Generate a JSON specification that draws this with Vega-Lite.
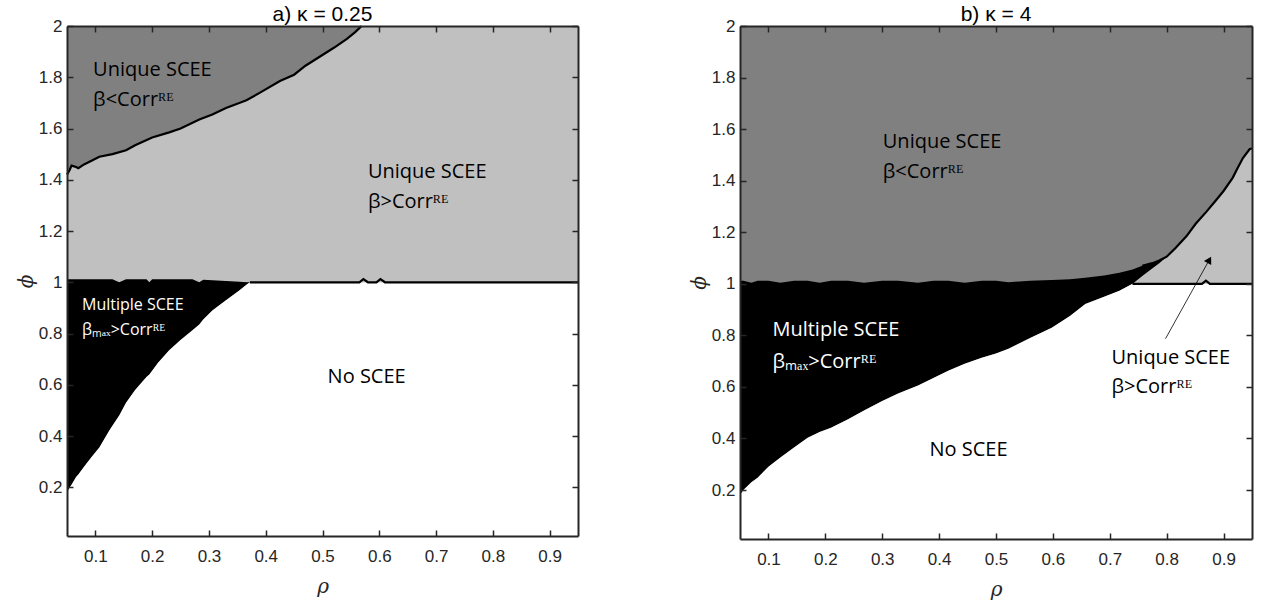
{
  "$schema": "https://vega.github.io/schema/vega-lite/v6.json",
  "background": "white",
  "padding": {"left": 16, "top": 4, "right": 5, "bottom": 5},
  "spacing": 106,
  "config": {
    "view": {"fill": "#808080", "stroke": null},
    "axis": {
      "labelFont": "Liberation Sans", "labelFontSize": 17, "labelColor": "#262626",
      "domainColor": "#262626", "domainWidth": 2, "tickColor": "#262626", "tickWidth": 1.5,
      "tickSize": 6, "grid": false,
      "titleFont": "DejaVu Serif", "titleFontStyle": "italic", "titleFontWeight": "normal",
      "titleFontSize": 20, "titleColor": "#262626"
    },
    "title": {"font": "Liberation Sans", "fontSize": 21, "fontWeight": "normal", "color": "#000000", "offset": -8}
  },
  "datasets": {
    "a_regions": [
      {"rho": 0.05, "w": 0.18, "bt": 1.012, "up": 1.42},
      {"rho": 0.055, "w": 0.2, "bt": 1.012, "up": 1.44},
      {"rho": 0.058, "w": 0.21, "bt": 1.012, "up": 1.455},
      {"rho": 0.066, "w": 0.24, "bt": 1.012, "up": 1.45},
      {"rho": 0.07, "w": 0.25, "bt": 1.012, "up": 1.445},
      {"rho": 0.08, "w": 0.28, "bt": 1.012, "up": 1.46},
      {"rho": 0.094, "w": 0.32, "bt": 1.012, "up": 1.475},
      {"rho": 0.107, "w": 0.355, "bt": 1.012, "up": 1.49},
      {"rho": 0.124, "w": 0.42, "bt": 1.012, "up": 1.5},
      {"rho": 0.13, "w": 0.44, "bt": 1.012, "up": 1.5},
      {"rho": 0.142, "w": 0.48, "bt": 1.0, "up": 1.51},
      {"rho": 0.154, "w": 0.53, "bt": 1.012, "up": 1.515},
      {"rho": 0.17, "w": 0.58, "bt": 1.012, "up": 1.535},
      {"rho": 0.19, "w": 0.63, "bt": 1.012, "up": 1.555},
      {"rho": 0.195, "w": 0.64, "bt": 1.0, "up": 1.56},
      {"rho": 0.2, "w": 0.655, "bt": 1.012, "up": 1.565},
      {"rho": 0.21, "w": 0.685, "bt": 1.012, "up": 1.572},
      {"rho": 0.23, "w": 0.735, "bt": 1.012, "up": 1.585},
      {"rho": 0.25, "w": 0.775, "bt": 1.012, "up": 1.6},
      {"rho": 0.271, "w": 0.813, "bt": 1.012, "up": 1.62},
      {"rho": 0.283, "w": 0.835, "bt": 1.0, "up": 1.635},
      {"rho": 0.29, "w": 0.855, "bt": 1.01, "up": 1.64},
      {"rho": 0.306, "w": 0.89, "bt": 1.008, "up": 1.655},
      {"rho": 0.33, "w": 0.93, "bt": 1.005, "up": 1.68},
      {"rho": 0.354, "w": 0.969, "bt": 1.002, "up": 1.705},
      {"rho": 0.366, "w": 0.99, "bt": 1.0, "up": 1.71},
      {"rho": 0.372, "w": 1.0, "bt": 1.0, "up": 1.72},
      {"rho": 0.39, "w": 1.0, "bt": 1.0, "up": 1.74},
      {"rho": 0.425, "w": 1.0, "bt": 1.0, "up": 1.785},
      {"rho": 0.45, "w": 1.0, "bt": 1.0, "up": 1.81},
      {"rho": 0.47, "w": 1.0, "bt": 1.0, "up": 1.845},
      {"rho": 0.495, "w": 1.0, "bt": 1.0, "up": 1.88},
      {"rho": 0.52, "w": 1.0, "bt": 1.0, "up": 1.915},
      {"rho": 0.543, "w": 1.0, "bt": 1.0, "up": 1.95},
      {"rho": 0.557, "w": 1.0, "bt": 1.0, "up": 1.975},
      {"rho": 0.569, "w": 1.0, "bt": 1.0, "up": 2.0},
      {"rho": 0.6, "w": 1.0, "bt": 1.0, "up": 2.0},
      {"rho": 0.95, "w": 1.0, "bt": 1.0, "up": 2.0}
    ],
    "a_edges": [
      {"seg": "upper", "rho": 0.05, "phi": 1.42},
      {"seg": "upper", "rho": 0.055, "phi": 1.44},
      {"seg": "upper", "rho": 0.058, "phi": 1.455},
      {"seg": "upper", "rho": 0.066, "phi": 1.45},
      {"seg": "upper", "rho": 0.07, "phi": 1.445},
      {"seg": "upper", "rho": 0.08, "phi": 1.46},
      {"seg": "upper", "rho": 0.094, "phi": 1.475},
      {"seg": "upper", "rho": 0.107, "phi": 1.49},
      {"seg": "upper", "rho": 0.13, "phi": 1.5},
      {"seg": "upper", "rho": 0.154, "phi": 1.515},
      {"seg": "upper", "rho": 0.17, "phi": 1.535},
      {"seg": "upper", "rho": 0.2, "phi": 1.565},
      {"seg": "upper", "rho": 0.23, "phi": 1.585},
      {"seg": "upper", "rho": 0.25, "phi": 1.6},
      {"seg": "upper", "rho": 0.283, "phi": 1.635},
      {"seg": "upper", "rho": 0.306, "phi": 1.655},
      {"seg": "upper", "rho": 0.33, "phi": 1.68},
      {"seg": "upper", "rho": 0.366, "phi": 1.71},
      {"seg": "upper", "rho": 0.39, "phi": 1.74},
      {"seg": "upper", "rho": 0.425, "phi": 1.785},
      {"seg": "upper", "rho": 0.45, "phi": 1.81},
      {"seg": "upper", "rho": 0.47, "phi": 1.845},
      {"seg": "upper", "rho": 0.495, "phi": 1.88},
      {"seg": "upper", "rho": 0.52, "phi": 1.915},
      {"seg": "upper", "rho": 0.543, "phi": 1.95},
      {"seg": "upper", "rho": 0.557, "phi": 1.975},
      {"seg": "upper", "rho": 0.569, "phi": 2.0},
      {"seg": "one", "rho": 0.372, "phi": 1.0},
      {"seg": "one", "rho": 0.565, "phi": 1.0},
      {"seg": "one", "rho": 0.572, "phi": 1.012},
      {"seg": "one", "rho": 0.58, "phi": 1.0},
      {"seg": "one", "rho": 0.595, "phi": 1.0},
      {"seg": "one", "rho": 0.602, "phi": 1.012},
      {"seg": "one", "rho": 0.61, "phi": 1.0},
      {"seg": "one", "rho": 0.95, "phi": 1.0}
    ],
    "a_labels": [
      {"kind": "dark", "rho": 0.096, "phi": 1.805, "text": "Unique SCEE"},
      {"kind": "dark", "rho": 0.096, "phi": 1.689, "text": "β<Corrᴿᴱ"},
      {"kind": "dark", "rho": 0.58, "phi": 1.405, "text": "Unique SCEE"},
      {"kind": "dark", "rho": 0.58, "phi": 1.288, "text": "β>Corrᴿᴱ"},
      {"kind": "dark", "rho": 0.509, "phi": 0.607, "text": "No SCEE"},
      {"kind": "light", "rho": 0.0765, "phi": 0.891, "text": "Multiple SCEE"},
      {"kind": "light", "rho": 0.0765, "phi": 0.794, "text": "βₘₐₓ>Corrᴿᴱ"}
    ],
    "b_regions": [
      {"rho": 0.05, "w": 0.18, "bb": 0.18, "bt": 1.012, "up": 1.0},
      {"rho": 0.056, "w": 0.2, "bb": 0.2, "bt": 1.012, "up": 1.0},
      {"rho": 0.07, "w": 0.23, "bb": 0.23, "bt": 1.004, "up": 1.0},
      {"rho": 0.081, "w": 0.248, "bb": 0.248, "bt": 1.012, "up": 1.0},
      {"rho": 0.1, "w": 0.29, "bb": 0.29, "bt": 1.012, "up": 1.0},
      {"rho": 0.121, "w": 0.326, "bb": 0.326, "bt": 1.004, "up": 1.0},
      {"rho": 0.145, "w": 0.365, "bb": 0.365, "bt": 1.012, "up": 1.0},
      {"rho": 0.169, "w": 0.403, "bb": 0.403, "bt": 1.012, "up": 1.0},
      {"rho": 0.19, "w": 0.425, "bb": 0.425, "bt": 1.004, "up": 1.0},
      {"rho": 0.21, "w": 0.442, "bb": 0.442, "bt": 1.012, "up": 1.0},
      {"rho": 0.24, "w": 0.475, "bb": 0.475, "bt": 1.012, "up": 1.0},
      {"rho": 0.268, "w": 0.508, "bb": 0.508, "bt": 1.004, "up": 1.0},
      {"rho": 0.3, "w": 0.545, "bb": 0.545, "bt": 1.012, "up": 1.0},
      {"rho": 0.328, "w": 0.574, "bb": 0.574, "bt": 1.012, "up": 1.0},
      {"rho": 0.363, "w": 0.605, "bb": 0.605, "bt": 1.004, "up": 1.0},
      {"rho": 0.39, "w": 0.635, "bb": 0.635, "bt": 1.012, "up": 1.0},
      {"rho": 0.416, "w": 0.663, "bb": 0.663, "bt": 1.012, "up": 1.0},
      {"rho": 0.445, "w": 0.69, "bb": 0.69, "bt": 1.004, "up": 1.0},
      {"rho": 0.475, "w": 0.713, "bb": 0.713, "bt": 1.012, "up": 1.0},
      {"rho": 0.5, "w": 0.73, "bb": 0.73, "bt": 1.012, "up": 1.0},
      {"rho": 0.522, "w": 0.748, "bb": 0.748, "bt": 1.006, "up": 1.0},
      {"rho": 0.56, "w": 0.79, "bb": 0.79, "bt": 1.012, "up": 1.0},
      {"rho": 0.598, "w": 0.829, "bb": 0.829, "bt": 1.015, "up": 1.0},
      {"rho": 0.63, "w": 0.875, "bb": 0.875, "bt": 1.018, "up": 1.0},
      {"rho": 0.657, "w": 0.922, "bb": 0.922, "bt": 1.023, "up": 1.0},
      {"rho": 0.69, "w": 0.95, "bb": 0.95, "bt": 1.032, "up": 1.0},
      {"rho": 0.717, "w": 0.973, "bb": 0.973, "bt": 1.043, "up": 1.0},
      {"rho": 0.74, "w": 1.0, "bb": 1.0, "bt": 1.055, "up": 1.0},
      {"rho": 0.757, "w": 1.0, "bb": 1.03, "bt": 1.07, "up": 1.03},
      {"rho": 0.775, "w": 1.0, "bb": 1.06, "bt": 1.08, "up": 1.06},
      {"rho": 0.787, "w": 1.0, "bb": 1.08, "bt": 1.09, "up": 1.085},
      {"rho": 0.8, "w": 1.0, "bb": 1.105, "bt": 1.105, "up": 1.105},
      {"rho": 0.816, "w": 1.0, "bb": 1.14, "bt": 1.14, "up": 1.14},
      {"rho": 0.835, "w": 1.0, "bb": 1.185, "bt": 1.185, "up": 1.185},
      {"rho": 0.851, "w": 1.0, "bb": 1.233, "bt": 1.233, "up": 1.233},
      {"rho": 0.87, "w": 1.0, "bb": 1.28, "bt": 1.28, "up": 1.28},
      {"rho": 0.886, "w": 1.0, "bb": 1.322, "bt": 1.322, "up": 1.322},
      {"rho": 0.9, "w": 1.0, "bb": 1.36, "bt": 1.36, "up": 1.36},
      {"rho": 0.916, "w": 1.0, "bb": 1.411, "bt": 1.411, "up": 1.411},
      {"rho": 0.925, "w": 1.0, "bb": 1.45, "bt": 1.45, "up": 1.45},
      {"rho": 0.934, "w": 1.0, "bb": 1.488, "bt": 1.488, "up": 1.488},
      {"rho": 0.946, "w": 1.0, "bb": 1.523, "bt": 1.523, "up": 1.523},
      {"rho": 0.95, "w": 1.0, "bb": 1.525, "bt": 1.525, "up": 1.525}
    ],
    "b_edges": [
      {"seg": "upper", "rho": 0.757, "phi": 1.07},
      {"seg": "upper", "rho": 0.775, "phi": 1.08},
      {"seg": "upper", "rho": 0.787, "phi": 1.09},
      {"seg": "upper", "rho": 0.8, "phi": 1.105},
      {"seg": "upper", "rho": 0.816, "phi": 1.14},
      {"seg": "upper", "rho": 0.835, "phi": 1.185},
      {"seg": "upper", "rho": 0.851, "phi": 1.233},
      {"seg": "upper", "rho": 0.87, "phi": 1.28},
      {"seg": "upper", "rho": 0.886, "phi": 1.322},
      {"seg": "upper", "rho": 0.9, "phi": 1.36},
      {"seg": "upper", "rho": 0.916, "phi": 1.411},
      {"seg": "upper", "rho": 0.925, "phi": 1.45},
      {"seg": "upper", "rho": 0.934, "phi": 1.488},
      {"seg": "upper", "rho": 0.946, "phi": 1.523},
      {"seg": "upper", "rho": 0.95, "phi": 1.525},
      {"seg": "one", "rho": 0.74, "phi": 1.0},
      {"seg": "one", "rho": 0.862, "phi": 1.0},
      {"seg": "one", "rho": 0.869, "phi": 1.012},
      {"seg": "one", "rho": 0.876, "phi": 1.0},
      {"seg": "one", "rho": 0.95, "phi": 1.0}
    ],
    "b_labels": [
      {"kind": "dark", "rho": 0.301, "phi": 1.527, "text": "Unique SCEE"},
      {"kind": "dark", "rho": 0.301, "phi": 1.411, "text": "β<Corrᴿᴱ"},
      {"kind": "dark", "rho": 0.383, "phi": 0.333, "text": "No SCEE"},
      {"kind": "dark", "rho": 0.703, "phi": 0.69, "text": "Unique SCEE"},
      {"kind": "dark", "rho": 0.703, "phi": 0.578, "text": "β>Corrᴿᴱ"},
      {"kind": "light", "rho": 0.107, "phi": 0.798, "text": "Multiple SCEE"},
      {"kind": "light", "rho": 0.107, "phi": 0.674, "text": "βₘₐₓ>Corrᴿᴱ"}
    ],
    "b_arrow": [
      {"rho": 0.798, "phi": 0.787, "rho2": 0.875, "phi2": 1.093}
    ]
  },
  "hconcat": [
    {
      "width": 511,
      "height": 510,
      "title": "a) κ = 0.25",
      "resolve": {"axis": {"x": "independent", "y": "independent"}},
      "layer": [
        {
          "data": {"name": "a_regions"},
          "mark": {"type": "area", "color": "#c0c0c0"},
          "encoding": {
            "x": {"field": "rho", "type": "quantitative", "scale": {"domain": [0.05, 0.95], "nice": false, "zero": false},
                  "axis": {"orient": "bottom", "zindex": 1, "values": [0.1, 0.2, 0.3, 0.4, 0.5, 0.6, 0.7, 0.8, 0.9], "format": ".1f", "title": "ρ", "titlePadding": 12, "ticks": false, "tickSize": 0, "labelPadding": 12}},
            "y": {"field": "up", "type": "quantitative", "scale": {"domain": [0.01, 2], "nice": false, "zero": false},
                  "axis": {"orient": "left", "zindex": 1, "values": [0.2, 0.4, 0.6, 0.8, 1, 1.2, 1.4, 1.6, 1.8, 2], "format": "~g", "title": "ϕ", "titlePadding": 2, "ticks": false, "tickSize": 0, "labelPadding": 5}},
            "y2": {"datum": 1}
          }
        },
        {
          "data": {"name": "a_regions"},
          "mark": {"type": "area", "color": "#000000"},
          "encoding": {
            "x": {"field": "rho", "type": "quantitative",
                  "axis": {"orient": "bottom", "zindex": 1, "values": [0.1, 0.2, 0.3, 0.4, 0.5, 0.6, 0.7, 0.8, 0.9], "labels": false, "domain": false, "title": null, "offset": -6}},
            "y": {"field": "w", "type": "quantitative",
                  "axis": {"orient": "left", "zindex": 1, "values": [0.2, 0.4, 0.6, 0.8, 1, 1.2, 1.4, 1.6, 1.8, 2], "labels": false, "domain": false, "title": null, "offset": -6}},
            "y2": {"field": "bt"}
          }
        },
        {
          "data": {"name": "a_regions"},
          "mark": {"type": "area", "color": "#ffffff"},
          "encoding": {
            "x": {"field": "rho", "type": "quantitative",
                  "axis": {"orient": "top", "zindex": 1, "values": [0.1, 0.2, 0.3, 0.4, 0.5, 0.6, 0.7, 0.8, 0.9], "labels": false, "domain": false, "title": null, "offset": -6}},
            "y": {"field": "w", "type": "quantitative",
                  "axis": {"orient": "right", "zindex": 1, "values": [0.2, 0.4, 0.6, 0.8, 1, 1.2, 1.4, 1.6, 1.8, 2], "labels": false, "domain": false, "title": null, "offset": -6}},
            "y2": {"datum": 0.01}
          }
        },
        {
          "data": {"name": "a_edges"},
          "mark": {"type": "line", "color": "#000000", "strokeWidth": 2.2},
          "encoding": {
            "x": {"field": "rho", "type": "quantitative",
                  "axis": {"orient": "top", "zindex": 1, "labels": false, "ticks": false, "tickSize": 0, "title": null}},
            "y": {"field": "phi", "type": "quantitative",
                  "axis": {"orient": "right", "zindex": 1, "labels": false, "ticks": false, "tickSize": 0, "title": null}},
            "detail": {"field": "seg"}
          }
        },
        {
          "data": {"name": "a_labels"},
          "transform": [{"filter": "datum.kind === 'dark'"}],
          "mark": {"type": "text", "align": "left", "baseline": "alphabetic", "font": "Open Sans", "fontSize": 20, "color": "#000000"},
          "encoding": {
            "x": {"field": "rho", "type": "quantitative", "axis": null},
            "y": {"field": "phi", "type": "quantitative", "axis": null},
            "text": {"field": "text"}
          }
        },
        {
          "data": {"name": "a_labels"},
          "transform": [{"filter": "datum.kind === 'light'"}],
          "mark": {"type": "text", "align": "left", "baseline": "alphabetic", "font": "Open Sans", "fontSize": 16, "color": "#ffffff"},
          "encoding": {
            "x": {"field": "rho", "type": "quantitative", "axis": null},
            "y": {"field": "phi", "type": "quantitative", "axis": null},
            "text": {"field": "text"}
          }
        }
      ]
    },
    {
      "width": 512,
      "height": 513,
      "title": "b) κ = 4",
      "resolve": {"axis": {"x": "independent", "y": "independent"}},
      "layer": [
        {
          "data": {"name": "b_regions"},
          "mark": {"type": "area", "color": "#c0c0c0"},
          "encoding": {
            "x": {"field": "rho", "type": "quantitative", "scale": {"domain": [0.05, 0.95], "nice": false, "zero": false},
                  "axis": {"orient": "bottom", "zindex": 1, "values": [0.1, 0.2, 0.3, 0.4, 0.5, 0.6, 0.7, 0.8, 0.9], "format": ".1f", "title": "ρ", "titlePadding": 12, "ticks": false, "tickSize": 0, "labelPadding": 12}},
            "y": {"field": "up", "type": "quantitative", "scale": {"domain": [0.01, 2], "nice": false, "zero": false},
                  "axis": {"orient": "left", "zindex": 1, "values": [0.2, 0.4, 0.6, 0.8, 1, 1.2, 1.4, 1.6, 1.8, 2], "format": "~g", "title": "ϕ", "titlePadding": 2, "ticks": false, "tickSize": 0, "labelPadding": 5}},
            "y2": {"datum": 1}
          }
        },
        {
          "data": {"name": "b_regions"},
          "mark": {"type": "area", "color": "#000000"},
          "encoding": {
            "x": {"field": "rho", "type": "quantitative",
                  "axis": {"orient": "bottom", "zindex": 1, "values": [0.1, 0.2, 0.3, 0.4, 0.5, 0.6, 0.7, 0.8, 0.9], "labels": false, "domain": false, "title": null, "offset": -6}},
            "y": {"field": "bb", "type": "quantitative",
                  "axis": {"orient": "left", "zindex": 1, "values": [0.2, 0.4, 0.6, 0.8, 1, 1.2, 1.4, 1.6, 1.8, 2], "labels": false, "domain": false, "title": null, "offset": -6}},
            "y2": {"field": "bt"}
          }
        },
        {
          "data": {"name": "b_regions"},
          "mark": {"type": "area", "color": "#ffffff"},
          "encoding": {
            "x": {"field": "rho", "type": "quantitative",
                  "axis": {"orient": "top", "zindex": 1, "values": [0.1, 0.2, 0.3, 0.4, 0.5, 0.6, 0.7, 0.8, 0.9], "labels": false, "domain": false, "title": null, "offset": -6}},
            "y": {"field": "w", "type": "quantitative",
                  "axis": {"orient": "right", "zindex": 1, "values": [0.2, 0.4, 0.6, 0.8, 1, 1.2, 1.4, 1.6, 1.8, 2], "labels": false, "domain": false, "title": null, "offset": -6}},
            "y2": {"datum": 0.01}
          }
        },
        {
          "data": {"name": "b_edges"},
          "mark": {"type": "line", "color": "#000000", "strokeWidth": 2.2},
          "encoding": {
            "x": {"field": "rho", "type": "quantitative",
                  "axis": {"orient": "top", "zindex": 1, "labels": false, "ticks": false, "tickSize": 0, "title": null}},
            "y": {"field": "phi", "type": "quantitative",
                  "axis": {"orient": "right", "zindex": 1, "labels": false, "ticks": false, "tickSize": 0, "title": null}},
            "detail": {"field": "seg"}
          }
        },
        {
          "data": {"name": "b_arrow"},
          "mark": {"type": "rule", "color": "#000000", "strokeWidth": 0.8},
          "encoding": {
            "x": {"field": "rho", "type": "quantitative", "axis": null},
            "y": {"field": "phi", "type": "quantitative", "axis": null},
            "x2": {"field": "rho2"},
            "y2": {"field": "phi2"}
          }
        },
        {
          "data": {"name": "b_arrow"},
          "mark": {"type": "point", "shape": "triangle-up", "angle": 29, "size": 70, "filled": true, "color": "#000000", "opacity": 1},
          "encoding": {
            "x": {"field": "rho2", "type": "quantitative", "axis": null},
            "y": {"field": "phi2", "type": "quantitative", "axis": null}
          }
        },
        {
          "data": {"name": "b_labels"},
          "transform": [{"filter": "datum.kind === 'dark'"}],
          "mark": {"type": "text", "align": "left", "baseline": "alphabetic", "font": "Open Sans", "fontSize": 20, "color": "#000000"},
          "encoding": {
            "x": {"field": "rho", "type": "quantitative", "axis": null},
            "y": {"field": "phi", "type": "quantitative", "axis": null},
            "text": {"field": "text"}
          }
        },
        {
          "data": {"name": "b_labels"},
          "transform": [{"filter": "datum.kind === 'light'"}],
          "mark": {"type": "text", "align": "left", "baseline": "alphabetic", "font": "Open Sans", "fontSize": 20, "color": "#ffffff"},
          "encoding": {
            "x": {"field": "rho", "type": "quantitative", "axis": null},
            "y": {"field": "phi", "type": "quantitative", "axis": null},
            "text": {"field": "text"}
          }
        }
      ]
    }
  ]
}
